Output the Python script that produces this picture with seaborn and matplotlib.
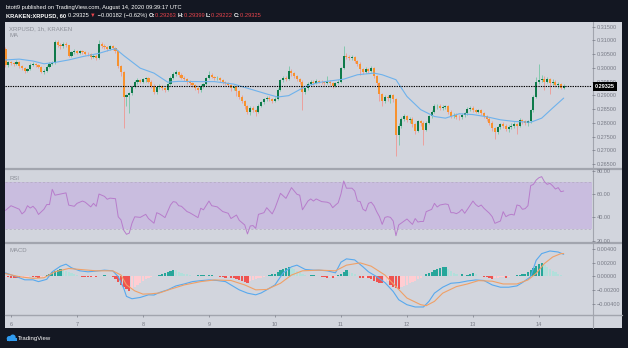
import matplotlib
matplotlib.use("Agg")
import matplotlib.pyplot as plt
from matplotlib.patches import Rectangle, Circle
from matplotlib.transforms import blended_transform_factory
import seaborn as sns
import pandas as pd
import numpy as np

W, H = 628, 348

# ---------------- data (hourly candles, hour 0 = Aug 6 00:00) ----------------
first_hour = -2
first_open = 0.3068
closes = [
    0.3010, 0.3020, 0.3018, 0.3015, 0.3022, 0.3008, 0.3000, 0.2988, 0.2995, 0.3012, 0.3015, 0.3010,
    0.3005, 0.2985, 0.2990, 0.3005, 0.3015, 0.3018, 0.3095, 0.3085, 0.3078, 0.3088, 0.3082, 0.3045,
    0.3058, 0.3062, 0.3055, 0.3060, 0.3058, 0.3052, 0.3050, 0.3040, 0.3045, 0.3036, 0.3088, 0.3080,
    0.3075, 0.3070, 0.3078, 0.3072, 0.3062, 0.3008, 0.2985, 0.2893, 0.2900, 0.2908, 0.2930, 0.2948,
    0.2955, 0.2950, 0.2958, 0.2962, 0.2950, 0.2935, 0.2912, 0.2930, 0.2935, 0.2928, 0.2918, 0.2942,
    0.2965, 0.2978, 0.2985, 0.2975, 0.2965, 0.2960, 0.2950, 0.2945, 0.2938, 0.2925, 0.2918, 0.2935,
    0.2940, 0.2962, 0.2975, 0.2968, 0.2962, 0.2965, 0.2955, 0.2948, 0.2945, 0.2938, 0.2925, 0.2930,
    0.2915, 0.2895, 0.2880, 0.2860, 0.2840, 0.2855, 0.2848, 0.2840, 0.2862, 0.2875, 0.2885, 0.2892,
    0.2885, 0.2880, 0.2888, 0.2920, 0.2955, 0.2965, 0.2960, 0.2988, 0.2980, 0.2970, 0.2960, 0.2950,
    0.2912, 0.2925, 0.2942, 0.2950, 0.2945, 0.2952, 0.2950, 0.2948, 0.2945, 0.2950, 0.2945, 0.2935,
    0.2945, 0.2950, 0.3000, 0.3045, 0.3040, 0.3035, 0.3040, 0.3025, 0.3015, 0.2995, 0.2985, 0.2995,
    0.2988, 0.3000, 0.2970, 0.2945, 0.2905, 0.2880, 0.2895, 0.2890, 0.2900, 0.2885, 0.2755, 0.2790,
    0.2815, 0.2825, 0.2810, 0.2815, 0.2795, 0.2770, 0.2805, 0.2800, 0.2775, 0.2800, 0.2825, 0.2840,
    0.2860, 0.2862, 0.2855, 0.2858, 0.2860, 0.2840, 0.2825, 0.2830, 0.2822, 0.2820, 0.2828, 0.2835,
    0.2850, 0.2855, 0.2848, 0.2840, 0.2845, 0.2835, 0.2825, 0.2815, 0.2800, 0.2780, 0.2765, 0.2785,
    0.2795, 0.2790, 0.2778, 0.2785, 0.2790, 0.2795, 0.2790, 0.2810, 0.2805, 0.2800, 0.2805, 0.2845,
    0.2895, 0.2950, 0.2955, 0.2960, 0.2950, 0.2958, 0.2945, 0.2950, 0.2938, 0.2942, 0.29263, 0.29325,
]
highs = [
    0.3075, 0.3026, 0.3025, 0.3023, 0.3028, 0.3025, 0.3012, 0.3004, 0.3000, 0.3018, 0.3020, 0.3019,
    0.3014, 0.3008, 0.2996, 0.3010, 0.3020, 0.3024, 0.3102, 0.3100, 0.3090, 0.3094, 0.3095, 0.3085,
    0.3062, 0.3068, 0.3066, 0.3065, 0.3064, 0.3062, 0.3058, 0.3055, 0.3050, 0.3049, 0.3102, 0.3094,
    0.3086, 0.3080, 0.3084, 0.3082, 0.3076, 0.3066, 0.3012, 0.2990, 0.2906, 0.2914, 0.2935, 0.2955,
    0.2962, 0.2960, 0.2965, 0.2968, 0.2966, 0.2955, 0.2940, 0.2935, 0.2940, 0.2938, 0.2932, 0.2946,
    0.2970, 0.2984, 0.2992, 0.2988, 0.2980, 0.2970, 0.2964, 0.2956, 0.2950, 0.2942, 0.2930, 0.2940,
    0.2946, 0.2968, 0.2988, 0.2980, 0.2972, 0.2970, 0.2968, 0.2960, 0.2952, 0.2950, 0.2942, 0.2936,
    0.2934, 0.2920, 0.2900, 0.2884, 0.2866, 0.2862, 0.2860, 0.2852, 0.2868, 0.2880, 0.2892, 0.2898,
    0.2896, 0.2890, 0.2894, 0.2925, 0.2960, 0.2972, 0.2970, 0.3007, 0.2995, 0.2985, 0.2975, 0.2964,
    0.2955, 0.2932, 0.2948, 0.2956, 0.2955, 0.2958, 0.2956, 0.2955, 0.2952, 0.2970, 0.2956, 0.2950,
    0.2950, 0.2956, 0.3005, 0.3078, 0.3055, 0.3048, 0.3046, 0.3044, 0.3030, 0.3020, 0.3000, 0.3002,
    0.3000, 0.3008, 0.3004, 0.2975, 0.2950, 0.2910, 0.2902, 0.2900, 0.2906, 0.2904, 0.2890, 0.2800,
    0.2822, 0.2832, 0.2830, 0.2822, 0.2820, 0.2800, 0.2812, 0.2810, 0.2805, 0.2806, 0.2830, 0.2846,
    0.2868, 0.2870, 0.2868, 0.2864, 0.2866, 0.2864, 0.2845, 0.2836, 0.2834, 0.2828, 0.2834, 0.2840,
    0.2856, 0.2862, 0.2860, 0.2852, 0.2850, 0.2850, 0.2840, 0.2830, 0.2820, 0.2805, 0.2785, 0.2790,
    0.2800, 0.2802, 0.2795, 0.2792, 0.2798, 0.2802, 0.2800, 0.2816, 0.2815, 0.2810, 0.2812, 0.2850,
    0.2900, 0.2968, 0.3015, 0.2975, 0.2970, 0.2968, 0.2962, 0.2958, 0.2955, 0.2948, 0.2946, 0.29399,
]
lows = [
    0.3005, 0.3002, 0.3010, 0.3008, 0.3012, 0.3000, 0.2993, 0.2980, 0.2984, 0.2992, 0.3006, 0.3004,
    0.2998, 0.2980, 0.2979, 0.2986, 0.3000, 0.3010, 0.3015, 0.3075, 0.3070, 0.3072, 0.3076, 0.3038,
    0.3040, 0.3052, 0.3050, 0.3050, 0.3052, 0.3046, 0.3044, 0.3034, 0.3035, 0.3030, 0.3032, 0.3074,
    0.3068, 0.3062, 0.3066, 0.3065, 0.3055, 0.2998, 0.2970, 0.2781, 0.2860, 0.2836, 0.2900, 0.2925,
    0.2942, 0.2944, 0.2945, 0.2950, 0.2944, 0.2928, 0.2905, 0.2906, 0.2924, 0.2920, 0.2912, 0.2915,
    0.2938, 0.2960, 0.2972, 0.2968, 0.2958, 0.2952, 0.2942, 0.2938, 0.2930, 0.2918, 0.2910, 0.2914,
    0.2928, 0.2936, 0.2958, 0.2962, 0.2955, 0.2956, 0.2948, 0.2942, 0.2938, 0.2930, 0.2915, 0.2918,
    0.2898, 0.2888, 0.2872, 0.2850, 0.2832, 0.2830, 0.2838, 0.2825, 0.2835, 0.2856, 0.2870, 0.2878,
    0.2878, 0.2872, 0.2874, 0.2884, 0.2915, 0.2948, 0.2952, 0.2955, 0.2972, 0.2962, 0.2952, 0.2942,
    0.2848, 0.2905, 0.2920, 0.2936, 0.2938, 0.2940, 0.2944, 0.2942, 0.2938, 0.2940, 0.2938, 0.2928,
    0.2930, 0.2940, 0.2946, 0.2995, 0.3032, 0.3028, 0.3028, 0.3018, 0.3008, 0.2975, 0.2978, 0.2980,
    0.2982, 0.2984, 0.2965, 0.2938, 0.2880, 0.2860, 0.2872, 0.2880, 0.2872, 0.2876, 0.2678, 0.2720,
    0.2782, 0.2805, 0.2802, 0.2798, 0.2785, 0.2760, 0.2765, 0.2790, 0.2721, 0.2770, 0.2795, 0.2818,
    0.2835, 0.2850, 0.2848, 0.2848, 0.2850, 0.2832, 0.2818, 0.2818, 0.2815, 0.2812, 0.2814, 0.2822,
    0.2830, 0.2844, 0.2840, 0.2834, 0.2834, 0.2828, 0.2818, 0.2808, 0.2792, 0.2772, 0.2740, 0.2758,
    0.2778, 0.2780, 0.2770, 0.2765, 0.2778, 0.2782, 0.2760, 0.2785, 0.2796, 0.2792, 0.2790, 0.2800,
    0.2840, 0.2890, 0.2940, 0.2948, 0.2920, 0.2944, 0.2905, 0.2938, 0.2930, 0.2925, 0.2924, 0.29222,
]

ma_hours = [-2, 3, 8, 12, 16, 21, 26, 32, 36, 38, 41, 47, 52, 57, 61, 69, 74, 81, 88, 93, 97, 101,
            107, 112, 121, 126, 132, 135, 140, 144, 149, 154, 158, 163, 168, 173, 178, 183, 189,
            193, 197, 201]
ma_values = [0.3029, 0.3032, 0.3025, 0.3015, 0.3020, 0.3029, 0.3041, 0.3053, 0.3065, 0.3070, 0.3045,
             0.2999, 0.2981, 0.2948, 0.2951, 0.2950, 0.2950, 0.2941, 0.2920, 0.2905, 0.2894, 0.2899,
             0.2932, 0.2947, 0.2959, 0.2975, 0.2981, 0.2975, 0.2957, 0.2896, 0.2848, 0.2823, 0.2817,
             0.2833, 0.2830, 0.2822, 0.2811, 0.2805, 0.2802, 0.2817, 0.2854, 0.2890]

rsi_hours = [-2, 0, 1, 3, 4, 5, 6, 7, 8, 9, 10, 12, 13, 14, 15, 16, 18, 20, 21, 23, 24, 26, 27, 28,
             29, 30, 31, 32, 34, 35, 36, 38, 39, 40, 41, 42, 43, 44, 45, 47, 49, 50, 52, 53, 54, 55,
             56, 58, 59, 60, 61, 62, 64, 65, 66, 68, 69, 70, 72, 73, 75, 77, 79, 80, 82, 83, 85, 86,
             87, 88, 89, 90, 92, 93, 95, 96, 98, 100, 102, 104, 105, 106, 108, 109, 110, 111, 113,
             115, 116, 117, 118, 119, 120, 121, 122, 124, 125, 126, 127, 128, 129, 130, 131, 132,
             133, 134, 135, 136, 137, 138, 139, 140, 141, 143, 144, 145, 146, 147, 148, 149, 150,
             151, 153, 154, 155, 156, 158, 159, 160, 161, 162, 163, 164, 165, 166, 168, 169, 170,
             171, 172, 174, 175, 176, 178, 179, 180, 181, 182, 183, 184, 185, 186, 187, 188, 189,
             190, 191, 192, 193, 194, 195, 196, 197, 198, 199, 200, 201]
rsi_values = [46, 50, 49, 47, 43, 45, 50, 48, 49.5, 47, 42.5, 47, 51, 51, 64, 59, 60, 61, 50.5, 49.5,
              52, 54, 53, 51, 49, 52, 49.5, 60, 58, 55.5, 56.5, 56, 40.5, 37.8, 29, 25.5, 26.5, 35,
              40.5, 40, 42.6, 39, 35, 44, 43, 41.5, 39.8, 50.6, 53.5, 53, 50, 49.5, 45, 44, 42.6,
              39.8, 47.8, 46.5, 54, 50, 49, 45, 43.5, 39, 42, 37.5, 33.5, 25.8, 32.6, 33, 30.6,
              42.6, 44, 48.3, 43, 47.8, 60.6, 56.3, 65.5, 59.8, 59, 46.5, 54, 55.8, 54, 55.8, 53.5,
              53, 52, 48.3, 50.5, 52.5, 60, 71.2, 65, 65, 62.6, 54, 53.5, 47, 45.5, 52, 53, 50,
              44.9, 40.6, 34, 40, 40.6, 40, 36.9, 24.3, 33.5, 36.9, 38.6, 36.3, 34, 39, 36, 36.5,
              36.5, 44.9, 46.9, 52, 48.9, 50.6, 51.5, 51, 44, 44, 43.2, 44.5, 46.9, 43.5, 46.9, 54,
              51, 49.2, 50.6, 47.8, 43.5, 40.6, 34.9, 36.9, 44.9, 40.6, 42, 42.6, 42, 50.6, 50,
              46.9, 47.5, 50, 67.2, 68.3, 72, 74, 74.9, 70.6, 68.3, 69.2, 67, 64.3, 65.5, 62, 62.6]

macd_hours = [-2, 2, 5, 8, 10, 13, 15, 18, 20, 22, 25, 28, 31, 34, 37, 39, 41, 42, 44, 47, 50, 52,
              54, 57, 60, 63, 66, 69, 72, 75, 78, 80, 83, 86, 89, 91, 93, 96, 99, 102, 104, 107,
              110, 112, 115, 118, 120, 122, 125, 128, 130, 133, 136, 139, 141, 144, 147, 150, 152,
              154, 157, 160, 163, 166, 169, 172, 175, 178, 181, 184, 186, 189, 191, 193, 196, 199,
              201]
macd_values = [0.0005, -0.00005, -0.0005, -0.0005, -0.00076, -0.00043, 0.00066, 0.00147, 0.00176,
               0.00124, 0.0008, 0.00066, 0.00076, 0.0009, 0.0008, -0.00005, -0.00172, -0.0029,
               -0.00324, -0.00305, -0.00267, -0.0027, -0.00233, -0.00195, -0.00138, -0.0011,
               -0.00076, -0.00062, -0.00052, -0.0006, -0.00076, -0.00124, -0.00195, -0.00243,
               -0.00267, -0.0024, -0.00195, -0.00124, 0.00051, 0.00138, 0.00162, 0.001, 0.0009,
               0.0009, 0.0008, 0.00051, 0.00205, 0.00253, 0.00238, 0.00138, 0.00066, -0.00005,
               -0.0009, -0.00219, -0.00338, -0.0041, -0.00443, -0.00443, -0.00362, -0.00243,
               -0.00157, -0.001, -0.0009, -0.00067, -0.00052, -0.0006, -0.00124, -0.00157,
               -0.00157, -0.00138, -0.0009, -0.00005, 0.00233, 0.00329, 0.00367, 0.00352, 0.00319]

signal_hours = [-2, 3, 8, 12, 16, 21, 25, 31, 37, 40, 42, 45, 48, 51, 54, 58, 63, 69, 74, 80, 85,
                89, 93, 98, 102, 106, 112, 118, 122, 127, 131, 136, 140, 144, 149, 151, 154, 157,
                162, 166, 170, 175, 179, 184, 188, 191, 194, 197, 200, 201]
signal_values = [0.0004, -0.00005, -0.00029, -0.0002, 0.00066, 0.00114, 0.001, 0.0008, 0.0008,
                 0.00019, -0.00124, -0.0021, -0.00257, -0.00252, -0.0024, -0.00186, -0.00124,
                 -0.00076, -0.00052, -0.0006, -0.00124, -0.00195, -0.0019, -0.001, 0.00019, 0.0008,
                 0.0009, 0.0008, 0.00162, 0.00195, 0.00147, 0.00019, -0.00148, -0.00314, -0.0041,
                 -0.00424, -0.00362, -0.00243, -0.00148, -0.0011, -0.00062, -0.0007, -0.0011,
                 -0.0011, -0.00052, 0.00043, 0.00186, 0.0028, 0.00329, 0.0033]

hist_values = [
    -0.00008, -0.00012, -0.00018, -0.00022, -0.00025, -0.00028, -0.00020, -0.00012, -0.00005, 0.00002, -0.00008, -0.00015,
    -0.00020, -0.00012, -0.00003, 0.00020, 0.00040, 0.00060, 0.00080, 0.00090, 0.00100, 0.00095, 0.00080, 0.00065,
    0.00050, 0.00035, 0.00020, 0.00010, -0.00005, -0.00010, -0.00012, -0.00015, -0.00010, -0.00012, 0.00005, 0.00010,
    0.00015, 0.00010, 0.00005, -0.00010, -0.00040, -0.00080, -0.00120, -0.00160, -0.00190, -0.00210, -0.00180, -0.00150,
    -0.00120, -0.00090, -0.00060, -0.00040, -0.00020, -0.00010, 0.00005, 0.00010, 0.00020, 0.00035, 0.00050, 0.00060,
    0.00080, 0.00090, 0.00085, 0.00070, 0.00055, 0.00040, 0.00030, 0.00015, 0.00005, 0.00010, 0.00015, 0.00020,
    0.00020, 0.00010, 0.00015, 0.00020, 0.00010, 0.00005, -0.00010, -0.00012, -0.00020, -0.00015, -0.00020, -0.00030,
    -0.00040, -0.00050, -0.00060, -0.00080, -0.00090, -0.00070, -0.00050, -0.00040, -0.00030, -0.00020, -0.00010, 0.00005,
    0.00020, 0.00030, 0.00040, 0.00060, 0.00090, 0.00110, 0.00120, 0.00140, 0.00120, 0.00100, 0.00080, 0.00060,
    0.00040, 0.00020, 0.00010, 0.00015, 0.00020, 0.00010, 0.00005, -0.00005, -0.00010, -0.00020, -0.00015, -0.00020,
    -0.00010, 0.00020, 0.00040, 0.00060, 0.00090, 0.00070, 0.00050, 0.00030, 0.00010, -0.00020, -0.00030, -0.00020,
    -0.00030, -0.00040, -0.00060, -0.00080, -0.00090, -0.00100, -0.00080, -0.00070, -0.00120, -0.00150, -0.00170, -0.00190,
    -0.00160, -0.00140, -0.00120, -0.00100, -0.00080, -0.00060, -0.00040, -0.00020, 0.00010, 0.00030, 0.00050, 0.00070,
    0.00090, 0.00110, 0.00120, 0.00130, 0.00130, 0.00110, 0.00080, 0.00050, 0.00030, 0.00010, 0.00030, 0.00010,
    0.00020, 0.00040, 0.00050, 0.00030, 0.00010, 0.00005, -0.00005, -0.00010, -0.00030, -0.00040, -0.00030, -0.00020,
    -0.00010, -0.00005, -0.00020, -0.00010, 0.00005, 0.00010, 0.00020, 0.00025, 0.00030, 0.00040, 0.00060, 0.00090,
    0.00120, 0.00150, 0.00180, 0.00200, 0.00170, 0.00140, 0.00110, 0.00080, 0.00060, 0.00040, 0.00020, 0.00010,
]

day_hours = [0, 24, 48, 72, 96, 120, 144, 168, 192]
day_labels = ["6", "7", "8", "9", "10", "11", "12", "13", "14"]
price_ticks = [0.315, 0.310, 0.305, 0.300, 0.295, 0.290, 0.285, 0.280, 0.275, 0.270, 0.265]
price_labels = ["0.31500", "0.31000", "0.30500", "0.30000", "0.29500", "0.29000", "0.28500",
                "0.28000", "0.27500", "0.27000", "0.26500"]
rsi_ticks = [80, 60, 40, 20]
rsi_labels = ["80.00", "60.00", "40.00", "20.00"]
macd_ticks = [0.004, 0.002, 0.0, -0.002, -0.004]
macd_labels = ["0.00400", "0.00200", "0.00000", "\u22120.00200", "\u22120.00400"]
last_price = 0.29325
last_price_label = "0.29325"

header_1 = "btott9 published on TradingView.com, August 14, 2020 09:39:17 UTC"
sym_text = "KRAKEN:XRPUSD, 60 "
chg_text = ["0.29325 ", "\u25bc", " \u22120.00182 (\u22120.62%) "]
ohlc_keys = ["O:", "H:", "L:", "C:"]
ohlc_vals = ["0.29263", "0.29399", "0.29222", "0.29325"]

# ---------------- style ----------------
DARK = "#131722"
PANE = "#D2D5DD"
SEP = "#A2A5AE"
TXT = "#787B86"
UP_BODY, DN_BODY = "#0E7A4A", "#F7922E"
UP_WICK, DN_WICK = "#7CC7AA", "#EE9C98"
RED = "#E8444C"
HFS = 4.15

sns.set_theme(style="white")
plt.rcParams["font.family"] = ["Liberation Sans", "DejaVu Sans"]
plt.rcParams["axes.unicode_minus"] = True

fig = plt.figure(figsize=(W / 100, H / 100), dpi=100, facecolor=DARK)


def rect(x0, y0, x1, y1):
    return [x0 / W, 1 - y1 / H, (x1 - x0) / W, (y1 - y0) / H]


bg = fig.add_axes([0, 0, 1, 1])
bg.set_xlim(0, W)
bg.set_ylim(H, 0)
bg.axis("off")
bg.add_patch(Rectangle((5, 22), 617, 306, color=PANE, lw=0, zorder=0))
for yy in (169.2, 242.6):
    bg.plot([5, 622], [yy, yy], color=SEP, lw=1.6, zorder=1, solid_capstyle="butt")
bg.plot([5, 622], [315.3, 315.3], color=SEP, lw=1.0, zorder=1)
bg.plot([592.5, 592.5], [22, 328], color=SEP, lw=0.8, zorder=1)

# header
bg.text(6, 7.2, header_1, color="white", fontsize=HFS, va="center", ha="left")
renderer = fig.canvas.get_renderer()
pieces = [(sym_text, "white", "bold"), (chg_text[0], "white", "normal"), (chg_text[1], RED, "normal"),
          (chg_text[2], "white", "normal")]
for k, v in zip(ohlc_keys, ohlc_vals):
    pieces.append((k, "white", "bold"))
    pieces.append((v + " ", RED, "normal"))
x = 6.0
for s, c, wgt in pieces:
    t = bg.text(x, 15.5, s, color=c, fontsize=HFS, va="center", ha="left", weight=wgt)
    bb = t.get_window_extent(renderer=renderer)
    x += bb.width

# footer logo
bg.add_patch(Circle((9.3, 338.6), 2.6, color="#2F9BF0", lw=0))
bg.add_patch(Circle((12.8, 337.4), 2.9, color="#2F9BF0", lw=0))
bg.add_patch(Rectangle((6.8, 338.3), 9.8, 2.8, color="#2F9BF0", lw=0))
bg.text(18, 338.8, "TradingView", color="white", fontsize=4.3, va="center", ha="left")

XMIN, XMAX = -2.18, 211.3

# ---------------- price pane ----------------
ax_p = fig.add_axes(rect(5, 22, 592, 168))
ax_p.set_facecolor("none")
hours = np.arange(first_hour, first_hour + len(closes))
opens = [first_open] + closes[:-1]
df = pd.DataFrame({"hour": hours, "open": opens, "close": closes, "high": highs, "low": lows})
up = df["close"] >= df["open"]
for mask, wc, bc in ((up, UP_WICK, UP_BODY), (~up, DN_WICK, DN_BODY)):
    d = df[mask]
    lo = np.minimum(d["low"], np.minimum(d["open"], d["close"]))
    hi = np.maximum(d["high"], np.maximum(d["open"], d["close"]))
    ax_p.vlines(d["hour"], lo, hi, color=wc, lw=0.65, zorder=2)
    bottom = np.minimum(d["open"], d["close"])
    height = np.maximum(np.abs(d["close"] - d["open"]), 0.00005)
    ax_p.bar(d["hour"], height, bottom=bottom, width=0.75, color=bc, lw=0, zorder=3)

sns.lineplot(x=ma_hours, y=ma_values, ax=ax_p, color="#6EB2EC", lw=0.8, zorder=4)
ax_p.axhline(last_price, color="black", lw=0.8, ls=(0, (1.2, 1.0)), zorder=5)
ax_p.set_xlim(XMIN, XMAX)
ax_p.set_ylim(0.26355, 0.31671)
ax_p.yaxis.tick_right()
ax_p.set_yticks(price_ticks)
ax_p.set_yticklabels(price_labels)
ax_p.set_xticks([])
tr = blended_transform_factory(ax_p.transAxes, ax_p.transData)
ax_p.text(1.0045, last_price, last_price_label, transform=tr, color="white", fontsize=4.0,
          weight="bold", va="center", ha="left", zorder=10, clip_on=False,
          bbox=dict(boxstyle="square,pad=0.35", fc="black", ec="none"))
ax_p.text(0.007, 0.955, "XRPUSD, 1h, KRAKEN", transform=ax_p.transAxes, color="#8D9099",
          fontsize=4.3, va="center", ha="left")
ax_p.text(0.007, 0.905, "MA", transform=ax_p.transAxes, color="#8D9099", fontsize=4.3,
          va="center", ha="left")

# ---------------- RSI pane ----------------
ax_r = fig.add_axes(rect(5, 170, 592, 242))
ax_r.set_facecolor("none")
ax_r.axhspan(30, 70, color="#C9BDDF", lw=0, zorder=1)
ax_r.axhline(70, color="#B2AABF", lw=0.5, ls=(0, (3, 3)), zorder=2)
ax_r.axhline(30, color="#B2AABF", lw=0.5, ls=(0, (3, 3)), zorder=2)
sns.lineplot(x=rsi_hours, y=rsi_values, ax=ax_r, color="#B77CCB", lw=0.7, zorder=3)
ax_r.set_xlim(XMIN, XMAX)
ax_r.set_ylim(18.9, 80.6)
ax_r.yaxis.tick_right()
ax_r.set_yticks(rsi_ticks)
ax_r.set_yticklabels(rsi_labels)
ax_r.set_xticks([])
ax_r.text(0.007, 0.88, "RSI", transform=ax_r.transAxes, color="#8D9099", fontsize=4.3,
          va="center", ha="left")

# ---------------- MACD pane ----------------
ax_m = fig.add_axes(rect(5, 243, 592, 315))
ax_m.set_facecolor("none")
hist = np.array(hist_values)
prev = np.concatenate([[hist[0]], hist[:-1]])
cols = np.where(hist >= 0,
                np.where(hist >= prev, "#26A69A", "#B2DFDB"),
                np.where(hist < prev, "#EF5350", "#FFCDD2"))
ax_m.bar(hours, hist, width=0.8, color=cols, lw=0, zorder=2)
sns.lineplot(x=macd_hours, y=macd_values, ax=ax_m, color="#58A9EE", lw=0.8, zorder=3)
sns.lineplot(x=signal_hours, y=signal_values, ax=ax_m, color="#F0A066", lw=0.8, zorder=4)
ax_m.set_xlim(XMIN, XMAX)
ax_m.set_ylim(-0.00559, 0.004825)
ax_m.yaxis.tick_right()
ax_m.set_yticks(macd_ticks)
ax_m.set_yticklabels(macd_labels)
ax_m.set_xticks(day_hours)
ax_m.set_xticklabels(day_labels)
ax_m.text(0.007, 0.9, "MACD", transform=ax_m.transAxes, color="#8D9099", fontsize=4.3,
          va="center", ha="left")

for ax in (ax_p, ax_r, ax_m):
    for s in ax.spines.values():
        s.set_visible(False)
    ax.tick_params(axis="y", which="both", right=True, length=2, width=0.5, color=TXT,
                   labelsize=4.0, labelcolor=TXT, pad=1.5, direction="out")
    ax.grid(False)
    ax.set_xlabel("")
    ax.set_ylabel("")
ax_m.tick_params(axis="x", bottom=True, length=1.5, width=0.5, color=TXT, labelsize=4.0,
                 labelcolor=TXT, pad=3.5, direction="out")

fig.savefig("out.png", dpi=100, facecolor=DARK)
